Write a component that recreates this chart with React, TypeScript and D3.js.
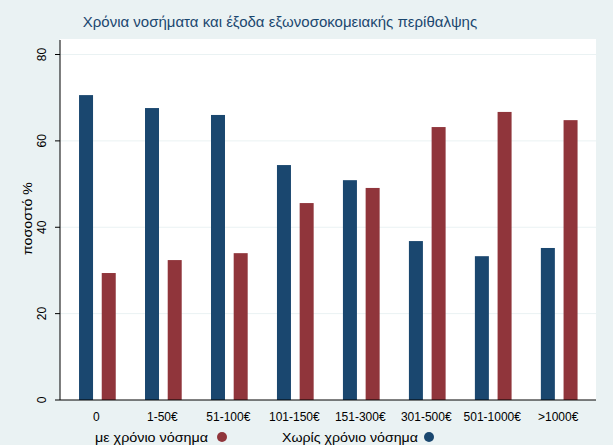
import React from "react";
import * as d3 from "d3";

const categories = ["0", "1-50€", "51-100€", "101-150€", "151-300€", "301-500€", "501-1000€", ">1000€"];
const seriesNames = ["Χωρίς χρόνιο νόσημα", "με χρόνιο νόσημα"];
const withoutChronic = [70.6, 67.6, 66.0, 54.4, 50.9, 36.8, 33.3, 35.2];
const withChronic = [29.4, 32.4, 34.0, 45.6, 49.1, 63.2, 66.7, 64.8];
const yTicks = [0, 20, 40, 60, 80];
const title = "Χρόνια νοσήματα και έξοδα εξωνοσοκομειακής περίθαλψης";
const yLabel = "ποσοστό %";

const W = 613, H = 445;
const plotL = 60, plotR = 596, plotT = 39, plotB = 400;
const BLUE = "#1a476f", RED = "#90353b", BG = "#eaf2f3";
const FONT = "'Liberation Sans', Arial, sans-serif";

export default function App() {
  const y = d3.scaleLinear().domain([0, 80]).range([plotB, 54.5]);
  const x = d3.scaleBand<string>().domain(categories).range([64.4, 592.2]).paddingInner(0).paddingOuter(0);
  const barW = 14;
  const gap = 8.7;
  return (
    <svg width={W} height={H} style={{ position: "absolute", left: 0, top: 0, fontFamily: FONT }}>
      <rect x={0} y={0} width={W} height={H} fill={BG} />
      <rect x={plotL} y={plotT} width={plotR - plotL} height={plotB - plotT} fill="#ffffff" />
      {yTicks.filter(t => t > 0).map(t => (
        <line key={"g" + t} x1={plotL} x2={plotR} y1={y(t)} y2={y(t)} stroke={BG} strokeWidth={1} />
      ))}
      {categories.map((c, i) => {
        const cx = (x(c) as number) + x.bandwidth() / 2;
        return (
          <g key={c}>
            <rect x={cx - gap / 2 - barW} y={y(withoutChronic[i])} width={barW} height={plotB - y(withoutChronic[i])} fill={BLUE} />
            <rect x={cx + gap / 2} y={y(withChronic[i])} width={barW} height={plotB - y(withChronic[i])} fill={RED} />
            <text x={cx - 1} y={421} textAnchor="middle" fontSize={12} fill="#000">{c}</text>
          </g>
        );
      })}
      <line x1={plotL} x2={plotL} y1={plotT + 1} y2={plotB} stroke="#000" strokeWidth={1} />
      <line x1={plotL} x2={plotR} y1={plotB} y2={plotB} stroke="#000" strokeWidth={1} />
      {yTicks.map(t => (
        <g key={"t" + t}>
          <line x1={plotL - 5} x2={plotL} y1={y(t)} y2={y(t)} stroke="#000" />
          <text transform={`translate(46,${y(t)}) rotate(-90)`} textAnchor="middle" fontSize={12} fill="#000">{t}</text>
        </g>
      ))}
      <text transform={`translate(32,218.5) rotate(-90)`} textAnchor="middle" fontSize={13} fill="#000"
        textLength={73} lengthAdjust="spacingAndGlyphs">{yLabel}</text>
      <text x={280} y={27} textAnchor="middle" fontSize={15} fill={BLUE}>{title}</text>
      <text x={95} y={442} fontSize={13} fill="#000" textLength={113} lengthAdjust="spacingAndGlyphs">{seriesNames[1]}</text>
      <circle cx={222} cy={437} r={5} fill={RED} />
      <text x={282} y={442} fontSize={13} fill="#000" textLength={136} lengthAdjust="spacingAndGlyphs">{seriesNames[0]}</text>
      <circle cx={429} cy={437} r={5} fill={BLUE} />
    </svg>
  );
}
